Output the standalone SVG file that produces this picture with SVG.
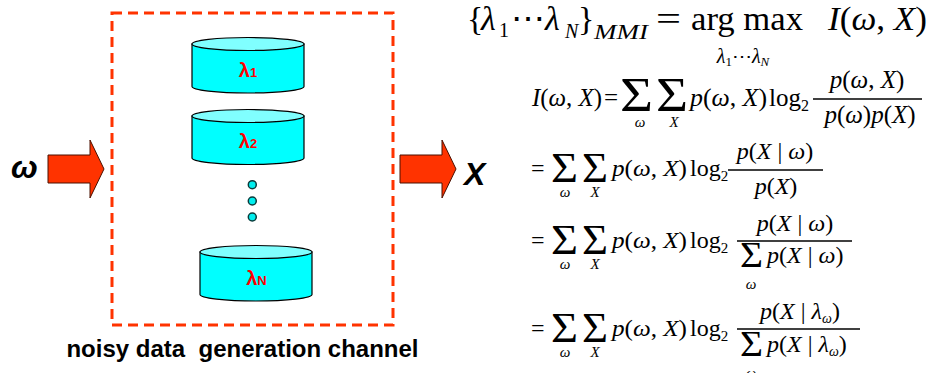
<svg xmlns="http://www.w3.org/2000/svg" width="929" height="373" viewBox="0 0 929 373">
<style>
.box{fill:none;stroke:#FF3300;stroke-width:3;stroke-dasharray:10 6}
.cyl{fill:#00FFFF;stroke:#000;stroke-width:1.2}
.cyltop{fill:#80FFFF;stroke:#000;stroke-width:1.2}
.lam{font-family:"Liberation Sans",Arial,sans-serif;font-weight:bold;font-size:20px;fill:#FF0000}
.lam tspan{font-size:13px}
.dot{fill:#00EEEE;stroke:#0B3B3B;stroke-width:1.5}
.arrow{fill:#FF3300;stroke:#4A1000;stroke-width:1}
.big{font-family:"Liberation Sans",Arial,sans-serif;font-weight:bold;font-style:italic;font-size:32px;fill:#000}
.cap{font-family:"Liberation Sans",Arial,sans-serif;font-weight:bold;font-size:24px;fill:#000;white-space:pre}
.f{font-family:"Liberation Serif","Times New Roman","DejaVu Serif",serif;fill:#000}
.it{font-style:italic}
.t{font-size:34px}
.m{font-size:25px}
.n{font-size:24px}
.s2{font-size:48px}
.s{font-size:42px}
.sd{font-size:36px}
.sub{font-size:15px;font-style:italic}
.frac{stroke:#000;stroke-width:1.3}
</style>

<g id="channel">
<rect class="box" x="112" y="13" width="281" height="312"/>
</g>

<g id="model1">
<path class="cyl" d="M192,44 V86.5 A56,6.5 0 0 0 304,86.5 V44 Z"/>
<ellipse class="cyltop" cx="248" cy="44" rx="56" ry="6.5"/>
<text class="lam" x="248" y="77" text-anchor="middle">λ<tspan>1</tspan></text>
</g>

<g id="model2">
<path class="cyl" d="M192,116 V158 A56,6.5 0 0 0 304,158 V116 Z"/>
<ellipse class="cyltop" cx="248" cy="116" rx="56" ry="6.5"/>
<text class="lam" x="248" y="148" text-anchor="middle">λ<tspan>2</tspan></text>
</g>

<g id="ellipsis">
<circle class="dot" cx="252.3" cy="184.7" r="4"/>
<circle class="dot" cx="252.3" cy="201" r="4"/>
<circle class="dot" cx="252.3" cy="217" r="4"/>
</g>

<g id="modelN">
<path class="cyl" d="M200,252 V294.5 A56,6.5 0 0 0 312,294.5 V252 Z"/>
<ellipse class="cyltop" cx="256" cy="252" rx="56" ry="6.5"/>
<text class="lam" x="256.5" y="285" text-anchor="middle">λ<tspan>N</tspan></text>
</g>

<g id="input">
<text class="big" x="11" y="178">ω</text>
</g>
<g id="output">
<text class="big" x="464" y="185">X</text>
</g>

<g id="connectors">
<polygon class="arrow" points="48,155 90,155 90,140 104,169 90,198 90,183 48,183"/>
<polygon class="arrow" points="400,155 442,155 442,140 456,169 442,198 442,183 400,183"/>
</g>

<g id="caption">
<text class="cap" x="242.5" y="357" text-anchor="middle">noisy data  generation channel</text>
</g>

<g id="formula-title" class="f">
<text class="t" x="467" y="30">{</text>
<text class="t it" x="481" y="30">λ</text>
<text x="499" y="37" font-size="20">1</text>
<text class="t" x="511" y="30">⋯</text>
<text class="t it" x="545" y="30">λ</text>
<text class="it" x="565" y="38" font-size="20">N</text>
<text class="t" x="578" y="30">}</text>
<text class="it" x="594" y="39" font-size="21" textLength="54" lengthAdjust="spacingAndGlyphs">MMI</text>
<text class="t" x="656" y="30" textLength="25" lengthAdjust="spacingAndGlyphs">=</text>
<text class="t" x="691" y="30" textLength="112" lengthAdjust="spacingAndGlyphs">arg max</text>
<text class="t" x="828" y="30" textLength="99" lengthAdjust="spacingAndGlyphs"><tspan class="it">I</tspan>(<tspan class="it">ω</tspan>, <tspan class="it">X</tspan>)</text>
<text x="743" y="63" font-size="20" text-anchor="middle"><tspan class="it">λ</tspan><tspan font-size="13" dy="3">1</tspan><tspan dy="-3">⋯</tspan><tspan class="it">λ</tspan><tspan class="it" font-size="13" dy="3">N</tspan></text>
</g>

<g id="formula-line1" class="f">
<text class="m" x="532" y="106" textLength="70" lengthAdjust="spacingAndGlyphs"><tspan class="it">I</tspan>(<tspan class="it">ω</tspan>, <tspan class="it">X</tspan>)</text>
<text class="m" x="604" y="106">=</text>
<text class="s2" x="620" y="111" textLength="33" lengthAdjust="spacingAndGlyphs">Σ</text>
<text class="s2" x="656" y="111" textLength="32" lengthAdjust="spacingAndGlyphs">Σ</text>
<text class="sub" x="640" y="127" text-anchor="middle">ω</text>
<text class="sub" x="674" y="127" text-anchor="middle">X</text>
<text class="m" x="690" y="106" textLength="77" lengthAdjust="spacingAndGlyphs"><tspan class="it">p</tspan>(<tspan class="it">ω</tspan>, <tspan class="it">X</tspan>)</text>
<text class="m" x="769" y="106">log<tspan font-size="16" dy="5">2</tspan></text>
<text class="m" x="867" y="88" text-anchor="middle"><tspan class="it">p</tspan>(<tspan class="it">ω</tspan>, <tspan class="it">X</tspan>)</text>
<line class="frac" x1="813" y1="99" x2="922" y2="99"/>
<text class="m" x="870" y="123" text-anchor="middle"><tspan class="it">p</tspan>(<tspan class="it">ω</tspan>)<tspan class="it">p</tspan>(<tspan class="it">X</tspan>)</text>
</g>

<g id="formula-line2" class="f">
<text class="n" x="531" y="176">=</text>
<text class="s" x="551" y="182" textLength="27" lengthAdjust="spacingAndGlyphs">Σ</text>
<text class="s" x="582" y="182" textLength="26" lengthAdjust="spacingAndGlyphs">Σ</text>
<text class="sub" x="565" y="197" text-anchor="middle">ω</text>
<text class="sub" x="595" y="197" text-anchor="middle">X</text>
<text class="n" x="612" y="176" textLength="75" lengthAdjust="spacingAndGlyphs"><tspan class="it">p</tspan>(<tspan class="it">ω</tspan>, <tspan class="it">X</tspan>)</text>
<text class="n" x="690" y="176">log<tspan font-size="15" dy="5">2</tspan></text>
<text class="n" x="775" y="159" text-anchor="middle"><tspan class="it">p</tspan>(<tspan class="it">X</tspan> | <tspan class="it">ω</tspan>)</text>
<line class="frac" x1="728" y1="170" x2="823" y2="170"/>
<text class="n" x="776" y="194" text-anchor="middle"><tspan class="it">p</tspan>(<tspan class="it">X</tspan>)</text>
</g>

<g id="formula-line3" class="f">
<text class="n" x="531" y="248">=</text>
<text class="s" x="551" y="254" textLength="27" lengthAdjust="spacingAndGlyphs">Σ</text>
<text class="s" x="582" y="254" textLength="26" lengthAdjust="spacingAndGlyphs">Σ</text>
<text class="sub" x="565" y="269" text-anchor="middle">ω</text>
<text class="sub" x="595" y="269" text-anchor="middle">X</text>
<text class="n" x="612" y="248" textLength="75" lengthAdjust="spacingAndGlyphs"><tspan class="it">p</tspan>(<tspan class="it">ω</tspan>, <tspan class="it">X</tspan>)</text>
<text class="n" x="690" y="248">log<tspan font-size="15" dy="5">2</tspan></text>
<text class="n" x="795" y="231" text-anchor="middle"><tspan class="it">p</tspan>(<tspan class="it">X</tspan> | <tspan class="it">ω</tspan>)</text>
<line class="frac" x1="737" y1="241" x2="852" y2="241"/>
<text class="sd" x="740" y="267" textLength="23" lengthAdjust="spacingAndGlyphs">Σ</text>
<text class="n" x="767" y="263"><tspan class="it">p</tspan>(<tspan class="it">X</tspan> | <tspan class="it">ω</tspan>)</text>
<text class="sub" x="751" y="289" text-anchor="middle">ω</text>
</g>

<g id="formula-line4" class="f">
<text class="n" x="531" y="336">=</text>
<text class="s" x="551" y="342" textLength="27" lengthAdjust="spacingAndGlyphs">Σ</text>
<text class="s" x="582" y="342" textLength="26" lengthAdjust="spacingAndGlyphs">Σ</text>
<text class="sub" x="565" y="357" text-anchor="middle">ω</text>
<text class="sub" x="595" y="357" text-anchor="middle">X</text>
<text class="n" x="612" y="336" textLength="75" lengthAdjust="spacingAndGlyphs"><tspan class="it">p</tspan>(<tspan class="it">ω</tspan>, <tspan class="it">X</tspan>)</text>
<text class="n" x="690" y="336">log<tspan font-size="15" dy="5">2</tspan></text>
<text class="n" x="800" y="319" text-anchor="middle"><tspan class="it">p</tspan>(<tspan class="it">X</tspan> | <tspan class="it">λ</tspan><tspan class="it" font-size="14" dy="4">ω</tspan><tspan dy="-4">)</tspan></text>
<line class="frac" x1="737" y1="329" x2="860" y2="329"/>
<text class="sd" x="740" y="356" textLength="23" lengthAdjust="spacingAndGlyphs">Σ</text>
<text class="n" x="767" y="352"><tspan class="it">p</tspan>(<tspan class="it">X</tspan> | <tspan class="it">λ</tspan><tspan class="it" font-size="14" dy="4">ω</tspan><tspan dy="-4">)</tspan></text>
<text class="sub" x="751" y="378" text-anchor="middle">ω</text>
</g>
</svg>
